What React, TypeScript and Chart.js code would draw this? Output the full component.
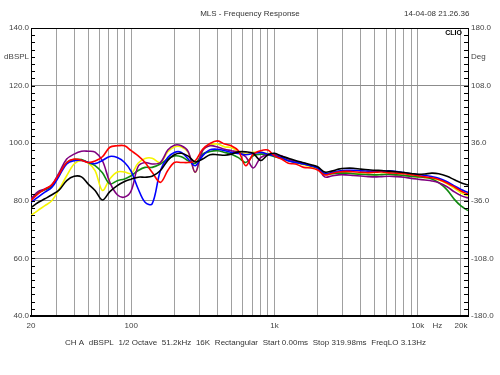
import React, { useEffect, useRef } from 'react';
import { Chart, registerables } from 'chart.js';
Chart.register(...registerables);

const freqs = [20, 22.4, 25, 28, 31.5, 35.5, 40, 45, 50, 56, 63, 71, 80, 90, 100, 112, 125, 140, 160, 180, 200, 224, 250, 280, 315, 355, 400, 450, 500, 560, 630, 710, 800, 900, 1000, 1120, 1250, 1400, 1600, 1800, 2000, 2240, 2500, 2800, 3150, 3550, 4000, 4500, 5000, 5600, 6300, 7100, 8000, 9000, 10000, 11200, 12500, 14000, 16000, 18000, 20000, 22400];

const blackSeries = [77.6, 79.4, 80.7, 82.1, 83.8, 87.0, 88.5, 88.3, 85.9, 83.6, 80.3, 83.2, 85.3, 86.7, 87.5, 88.2, 88.2, 88.5, 90.5, 94, 96, 96.5, 95.5, 93.5, 94.5, 96, 96, 95.8, 96.2, 97, 97, 96.5, 94, 96, 96.5, 95.5, 94.8, 94, 93.2, 92.5, 91.8, 90, 90.3, 91, 91.3, 91.3, 91, 90.8, 90.6, 90.5, 90.3, 90.1, 89.8, 89.5, 89.2, 89.3, 89.6, 89.4, 88.5, 87.3, 86.3, 85.5];
const redSeries = [80.1, 82.4, 84, 85.6, 89.3, 93.3, 94.5, 94.1, 93.3, 93.8, 95.3, 98.6, 99.1, 99.1, 97.4, 95.6, 93.3, 89.9, 86.4, 90.5, 93.3, 93.3, 93.3, 93.9, 97.9, 99.9, 100.8, 99.7, 99.1, 97.4, 92.2, 96.2, 97.4, 97.6, 95.6, 94.5, 93, 92.8, 91.6, 91.4, 90.7, 89, 89.5, 90, 90.2, 90.1, 89.9, 89.8, 89.9, 90, 89.7, 89.6, 89.4, 89.1, 88.7, 88.3, 88, 87.4, 86.2, 84.8, 83.4, 82.3];
const blueSeries = [79.5, 81.3, 83, 84.7, 88.7, 92.8, 93.9, 94, 93.4, 92.9, 94, 95.4, 95, 93.3, 90.2, 84.1, 79.5, 78.9, 90.5, 95, 96.8, 96.8, 94.5, 92.2, 95.6, 97.7, 97.9, 97.4, 96.8, 96.4, 96, 96.4, 96.8, 96.2, 95.6, 95, 93.9, 93.3, 92.8, 92.2, 91.4, 89.5, 89.8, 90.3, 90.6, 90.6, 90.4, 90.3, 90.2, 90.3, 90.4, 90.2, 89.8, 89.4, 89.1, 88.8, 88.4, 87.8, 86.6, 85.2, 83.9, 82.9];
const purpleSeries = [80.7, 83.2, 84.1, 85.6, 89.9, 94.5, 96.2, 97.2, 97.2, 96.9, 93.9, 86.4, 82.1, 81.3, 83.5, 92, 93.3, 92.8, 93.3, 97.6, 99.3, 99.1, 97.1, 89.9, 97.4, 99.1, 98.7, 97.9, 97.4, 96.8, 95.3, 91.4, 95, 96, 96, 95.6, 94.5, 93.7, 93, 92.2, 91.4, 88.3, 88.6, 89, 89, 88.8, 88.6, 88.4, 88.3, 88.4, 88.5, 88.4, 88.2, 87.8, 87.5, 87.2, 86.9, 86.3, 84.9, 83.1, 81.8, 81];
const greenSeries = [80.3, 82.8, 83.8, 85.1, 89.3, 93.3, 94.3, 94.3, 93.3, 92.2, 89.7, 85.9, 87, 87.6, 88.7, 90.5, 91.6, 91.6, 92.8, 94.5, 95.6, 95.3, 93.9, 93, 96.2, 97.1, 97.4, 96.8, 96.2, 95, 93.3, 95.6, 96.2, 96, 95.3, 94.8, 93.9, 93.3, 92.8, 92.1, 91.4, 89.3, 89.4, 89.6, 89.6, 89.4, 89.2, 89.1, 89, 89.1, 89.2, 89, 88.8, 88.5, 88.3, 88.1, 87.6, 86.3, 83.8, 80.5, 78.2, 76.6];
const yellowSeries = [74.9, 76.7, 78.3, 80.1, 84.1, 88.7, 92.8, 94, 93.2, 90.5, 83.6, 87.6, 90, 90, 89.5, 93.1, 94.7, 94.8, 93.3, 97, 98.7, 98.7, 96.8, 89.9, 97.4, 99.4, 99.7, 98.7, 98.5, 97.1, 96.2, 96.8, 96.8, 96.4, 96, 95, 94.1, 93.3, 92.5, 91.8, 91, 89.2, 89.4, 89.6, 89.7, 89.5, 89.3, 89.2, 89.1, 89.2, 89.2, 89, 88.8, 88.5, 88.3, 88, 87.8, 87.2, 85.9, 84.3, 82.8, 81.7];

const xGridTicks = [20, 30, 40, 50, 60, 70, 80, 90, 100, 200, 300, 400, 500, 600, 700, 800, 900, 1000, 2000, 3000, 4000, 5000, 6000, 7000, 8000, 9000, 10000, 13700, 20000];
const xLabelMap: Record<number, string> = { 20: '20', 100: '100', 1000: '1k', 10000: '10k', 13700: 'Hz', 20000: '20k' };
const yTicks = [40, 60, 80, 100, 120, 130, 140];
const yUnitTick = 130;
const y2Ticks = [-180, -108, -36, 36, 108, 144, 180];
const y2UnitTick = 144;
const titleText = 'MLS - Frequency Response';
const dateText = '14-04-08 21.26.36';
const logoText = 'CLIO';
const infoItems = ['CH A', 'dBSPL', '1/2 Octave', '51.2kHz', '16K', 'Rectangular', 'Start 0.00ms', 'Stop 319.98ms', 'FreqLO 3.13Hz'];

const FONT = '"Liberation Sans", Arial, sans-serif';
const TEXT = '#444444';

const decorPlugin = {
  id: 'decor',
  afterDraw(chart: any) {
    const { ctx, chartArea, scales } = chart;
    const { left, right, top, bottom } = chartArea;
    ctx.save();
    // top frame line
    ctx.strokeStyle = '#000';
    ctx.lineWidth = 1;
    ctx.beginPath();
    ctx.moveTo(left, top + 0.5);
    ctx.lineTo(right, top + 0.5);
    ctx.stroke();
    // minor inward ticks on both vertical axes
    const y = scales.y;
    ctx.beginPath();
    for (let v = 40; v <= 140; v += 2.5) {
      const py = Math.round(y.getPixelForValue(v)) + 0.5;
      ctx.moveTo(left, py);
      ctx.lineTo(left + 4, py);
      ctx.moveTo(right - 4, py);
      ctx.lineTo(right, py);
    }
    ctx.stroke();
    // texts
    ctx.fillStyle = '#333';
    ctx.font = '8px ' + FONT;
    ctx.textBaseline = 'middle';
    ctx.textAlign = 'center';
    ctx.fillText(titleText, 250, 14);
    ctx.textAlign = 'left';
    ctx.fillText(dateText, 404, 14);
    // info line
    const widths = infoItems.map((s) => ctx.measureText(s).width);
    const total = 361;
    const gap = (total - widths.reduce((a, b) => a + b, 0)) / (infoItems.length - 1);
    let x = 65;
    infoItems.forEach((s, i) => {
      ctx.fillText(s, x, 343);
      x += widths[i] + gap;
    });
    // logo
    ctx.fillStyle = '#000';
    ctx.font = 'bold 7px ' + FONT;
    ctx.textAlign = 'right';
    ctx.fillText(logoText, right - 6, 33);
    ctx.restore();
  },
};

export default function App() {
  const ref = useRef<HTMLCanvasElement | null>(null);
  useEffect(() => {
    if (!ref.current) return;
    const mk = (data: number[], color: string, label: string) => ({
      label,
      data: freqs.map((f, i) => ({ x: f, y: data[i] })),
      borderColor: color,
      backgroundColor: color,
      borderWidth: 1.6,
      pointRadius: 0,
      tension: 0.35,
      fill: false,
    });
    const chart = new Chart(ref.current, {
      type: 'line',
      data: {
        datasets: [
          mk(blackSeries, '#000000', 'black'),
          mk(redSeries, '#ff0000', 'red'),
          mk(blueSeries, '#0000ff', 'blue'),
          mk(purpleSeries, '#800080', 'purple'),
          mk(greenSeries, '#108a10', 'green'),
          mk(yellowSeries, '#f5f500', 'yellow'),
        ],
      },
      options: {
        animation: false,
        responsive: false,
        devicePixelRatio: 1,
        layout: { padding: { top: 28, left: 0, right: 0, bottom: 0 } },
        plugins: { legend: { display: false }, tooltip: { enabled: false }, title: { display: false } },
        scales: {
          x: {
            type: 'logarithmic',
            min: 20,
            max: 22400,
            afterBuildTicks: (s: any) => {
              s.ticks = xGridTicks.map((v) => ({ value: v }));
            },
            afterFit: (s: any) => {
              s.height = 59;
            },
            ticks: {
              autoSkip: false,
              maxRotation: 0,
              minRotation: 0,
              padding: 5,
              color: TEXT,
              font: { family: FONT, size: 8 },
              callback: (v: any) => xLabelMap[Number(v)] ?? '',
            },
            grid: {
              color: (c: any) => (c.tick && c.tick.value === 13700 ? 'rgba(0,0,0,0)' : '#a0a0a0'),
              lineWidth: 1,
              drawTicks: false,
            },
            border: { color: '#000', width: 2 },
          },
          y: {
            position: 'left',
            min: 40,
            max: 140,
            afterBuildTicks: (s: any) => {
              s.ticks = yTicks.map((v) => ({ value: v }));
            },
            afterFit: (s: any) => {
              s.width = 31;
            },
            ticks: {
              padding: 2,
              color: TEXT,
              font: { family: FONT, size: 8 },
              callback: (v: any) => (Number(v) === yUnitTick ? 'dBSPL' : Number(v).toFixed(1)),
            },
            grid: {
              color: (c: any) => (c.tick && c.tick.value === yUnitTick ? 'rgba(0,0,0,0)' : '#8c8c8c'),
              lineWidth: 1,
              drawTicks: false,
            },
            border: { color: '#000', width: 1 },
          },
          y2: {
            position: 'right',
            min: -180,
            max: 180,
            afterBuildTicks: (s: any) => {
              s.ticks = y2Ticks.map((v) => ({ value: v }));
            },
            afterFit: (s: any) => {
              s.width = 32;
            },
            ticks: {
              padding: 3,
              color: TEXT,
              font: { family: FONT, size: 8 },
              callback: (v: any) => (Number(v) === y2UnitTick ? 'Deg' : Number(v).toFixed(1)),
            },
            grid: { display: false, drawTicks: false },
            border: { color: '#000', width: 1 },
          },
        },
      } as any,
      plugins: [decorPlugin],
    });
    return () => chart.destroy();
  }, []);
  return (
    <div style={{ position: 'fixed', left: 0, top: 0, width: 500, height: 375, background: '#fff' }}>
      <canvas ref={ref} width={500} height={375} style={{ width: 500, height: 375 }} />
    </div>
  );
}
